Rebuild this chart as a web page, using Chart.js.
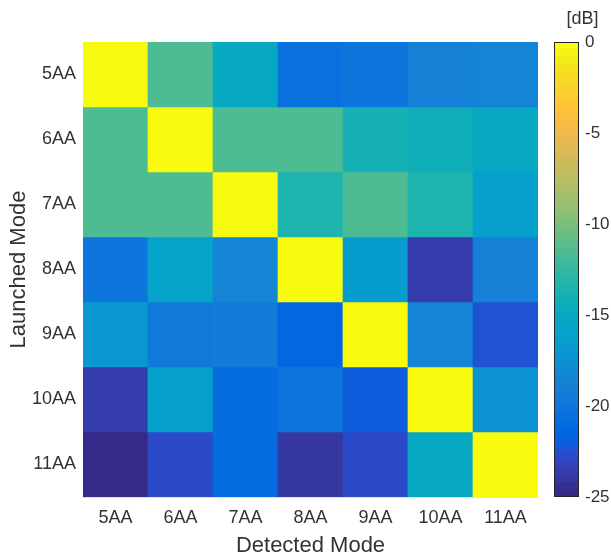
<!DOCTYPE html>
<html>
<head>
<meta charset="utf-8">
<script src="https://cdn.jsdelivr.net/npm/chart.js@4/dist/chart.umd.min.js"></script>
<style>
  html, body { margin: 0; padding: 0; background: #fff; }
  #wrap { position: relative; width: 611px; height: 559px; }
  #heat { position: absolute; left: 0; top: 0; }
  #bar { position: absolute; left: 532px; top: 0; }
</style>
</head>
<body>
<div id="wrap">
  <canvas id="heat" width="611" height="559"></canvas>
  <canvas id="bar" width="79" height="559"></canvas>
</div>
<script>
// modes on both axes
const detected = ['5AA', '6AA', '7AA', '8AA', '9AA', '10AA', '11AA']
const launched = ['5AA', '6AA', '7AA', '8AA', '9AA', '10AA', '11AA']

// crosstalk in dB, one row per launched mode
const row5AA  = [0, -11.5, -15.1, -20.5, -20.3, -19.0, -18.7]
const row6AA  = [-11.5, 0, -11.5, -11.5, -13.9, -14.2, -15.2]
const row7AA  = [-11.5, -11.5, 0, -13.5, -11.7, -13.5, -16.2]
const row8AA  = [-20.3, -16.0, -18.7, 0, -16.6, -23.6, -19.0]
const row9AA  = [-17.0, -19.8, -19.3, -21.3, 0, -18.7, -22.6]
const row10AA = [-23.6, -16.2, -21.0, -20.2, -22.1, 0, -17.2]
const row11AA = [-24.8, -23.0, -21.0, -24.0, -22.9, -15.0, 0]
const rows = [row5AA, row6AA, row7AA, row8AA, row9AA, row10AA, row11AA]

// colour limits and colorbar ticks
const cMin = -25
const cMax = 0
const cbarTicks = [0, -5, -10, -15, -20, -25]

// parula, 64 steps
const parula = [
  [0.2081,0.1663,0.5292],[0.2116,0.1898,0.5777],[0.2123,0.2138,0.6270],[0.2081,0.2386,0.6771],
  [0.1959,0.2645,0.7279],[0.1707,0.2919,0.7792],[0.1253,0.3242,0.8303],[0.0591,0.3598,0.8683],
  [0.0117,0.3875,0.8820],[0.0060,0.4086,0.8828],[0.0165,0.4266,0.8786],[0.0329,0.4430,0.8720],
  [0.0498,0.4586,0.8641],[0.0629,0.4737,0.8554],[0.0723,0.4887,0.8467],[0.0779,0.5040,0.8384],
  [0.0793,0.5200,0.8312],[0.0749,0.5375,0.8263],[0.0641,0.5570,0.8240],[0.0488,0.5772,0.8228],
  [0.0343,0.5966,0.8199],[0.0265,0.6137,0.8135],[0.0239,0.6287,0.8038],[0.0231,0.6418,0.7913],
  [0.0228,0.6535,0.7768],[0.0267,0.6642,0.7607],[0.0384,0.6743,0.7436],[0.0590,0.6838,0.7254],
  [0.0843,0.6928,0.7062],[0.1133,0.7015,0.6859],[0.1453,0.7098,0.6646],[0.1801,0.7177,0.6424],
  [0.2178,0.7250,0.6193],[0.2586,0.7317,0.5954],[0.3022,0.7376,0.5712],[0.3482,0.7424,0.5473],
  [0.3953,0.7459,0.5244],[0.4420,0.7481,0.5033],[0.4871,0.7491,0.4840],[0.5300,0.7491,0.4661],
  [0.5709,0.7485,0.4494],[0.6099,0.7473,0.4337],[0.6473,0.7456,0.4188],[0.6834,0.7435,0.4044],
  [0.7184,0.7411,0.3905],[0.7525,0.7384,0.3768],[0.7858,0.7356,0.3633],[0.8185,0.7327,0.3498],
  [0.8507,0.7299,0.3360],[0.8824,0.7274,0.3217],[0.9139,0.7258,0.3063],[0.9450,0.7261,0.2886],
  [0.9739,0.7314,0.2666],[0.9938,0.7455,0.2403],[0.9990,0.7653,0.2164],[0.9955,0.7861,0.1967],
  [0.9880,0.8066,0.1794],[0.9789,0.8271,0.1633],[0.9697,0.8481,0.1475],[0.9626,0.8705,0.1309],
  [0.9589,0.8949,0.1132],[0.9598,0.9218,0.0948],[0.9661,0.9514,0.0755],[0.9763,0.9831,0.0538]
]

const toColor = (v) => {
  const m = parula.length
  let i = Math.floor((v - cMin) / (cMax - cMin) * m)
  i = Math.max(0, Math.min(m - 1, i))
  const c = parula[i]
  return `rgb(${Math.round(c[0] * 255)},${Math.round(c[1] * 255)},${Math.round(c[2] * 255)})`
}

const textColor = '#333'
const fam = "'Liberation Sans', Arial, sans-serif"

// heatmap: every launched mode is a dataset of floating bars [r, r+1]
new Chart(document.getElementById('heat'), {
  type: 'bar',
  data: {
    labels: detected,
    datasets: rows.map((vals, r) => ({
      label: launched[r],
      data: vals.map(() => [r, r + 1]),
      backgroundColor: vals.map(toColor),
      borderWidth: 0,
      grouped: false,
      barPercentage: 1,
      categoryPercentage: 1
    }))
  },
  options: {
    responsive: false,
    animation: false,
    layout: { padding: { left: 0, top: 42, right: 73, bottom: 0 } },
    plugins: { legend: { display: false }, tooltip: { enabled: false } },
    scales: {
      x: {
        grid: { display: false, drawTicks: false },
        border: { display: true, color: 'rgba(0,0,0,0.12)' },
        ticks: { color: textColor, font: { family: fam, size: 18 }, padding: 10, maxRotation: 0 },
        title: { display: true, text: 'Detected Mode', color: textColor,
                 font: { family: fam, size: 22 }, padding: { top: 0, bottom: 0 } },
        afterFit: (s) => { s.height = 62 }
      },
      y: {
        min: 0,
        max: launched.length,
        reverse: true,
        grid: { display: false, drawTicks: false },
        border: { display: true, color: 'rgba(0,0,0,0.12)' },
        afterBuildTicks: (s) => { s.ticks = launched.map((_, i) => ({ value: i + 0.5 })) },
        ticks: {
          color: textColor,
          font: { family: fam, size: 18 },
          padding: 7,
          callback: (v) => launched[Math.floor(v)]
        },
        title: { display: true, text: 'Launched Mode', color: textColor,
                 font: { family: fam, size: 22 }, padding: { top: 6, bottom: 0 } },
        afterFit: (s) => { s.width = 83 }
      }
    }
  }
})

// colorbar: one floating bar per colormap step
const steps = parula.map((_, k) => [cMin + k * (cMax - cMin) / parula.length,
                                    cMin + (k + 1) * (cMax - cMin) / parula.length])

const frame = {
  id: 'frame',
  afterDatasetsDraw(chart) {
    const a = chart.chartArea
    const ctx = chart.ctx
    ctx.save()
    ctx.strokeStyle = '#262626'
    ctx.lineWidth = 1
    ctx.strokeRect(a.left + 0.5, a.top + 0.5, a.right - a.left - 1, a.bottom - a.top - 1)
    ctx.restore()
  }
}

new Chart(document.getElementById('bar'), {
  type: 'bar',
  data: {
    labels: ['dB'],
    datasets: steps.map((s) => ({
      data: [s],
      backgroundColor: toColor((s[0] + s[1]) / 2),
      borderWidth: 0,
      grouped: false,
      barPercentage: 1,
      categoryPercentage: 1
    }))
  },
  options: {
    responsive: false,
    animation: false,
    layout: { padding: { left: 22, top: 8, right: 0, bottom: 62 } },
    plugins: {
      legend: { display: false },
      tooltip: { enabled: false },
      title: { display: true, text: '[dB]', color: textColor,
               font: { family: fam, size: 18, weight: 'normal' }, padding: { top: 0, bottom: 12.4 } }
    },
    scales: {
      x: { display: false },
      y: {
        position: 'right',
        min: cMin,
        max: cMax,
        grid: { display: false, drawTicks: false },
        border: { display: false },
        afterBuildTicks: (s) => { s.ticks = cbarTicks.map(v => ({ value: v })) },
        ticks: { color: textColor, font: { family: fam, size: 17 }, padding: 6 },
        afterFit: (s) => { s.width = 32 }
      }
    }
  },
  plugins: [frame]
})
</script>
</body>
</html>
